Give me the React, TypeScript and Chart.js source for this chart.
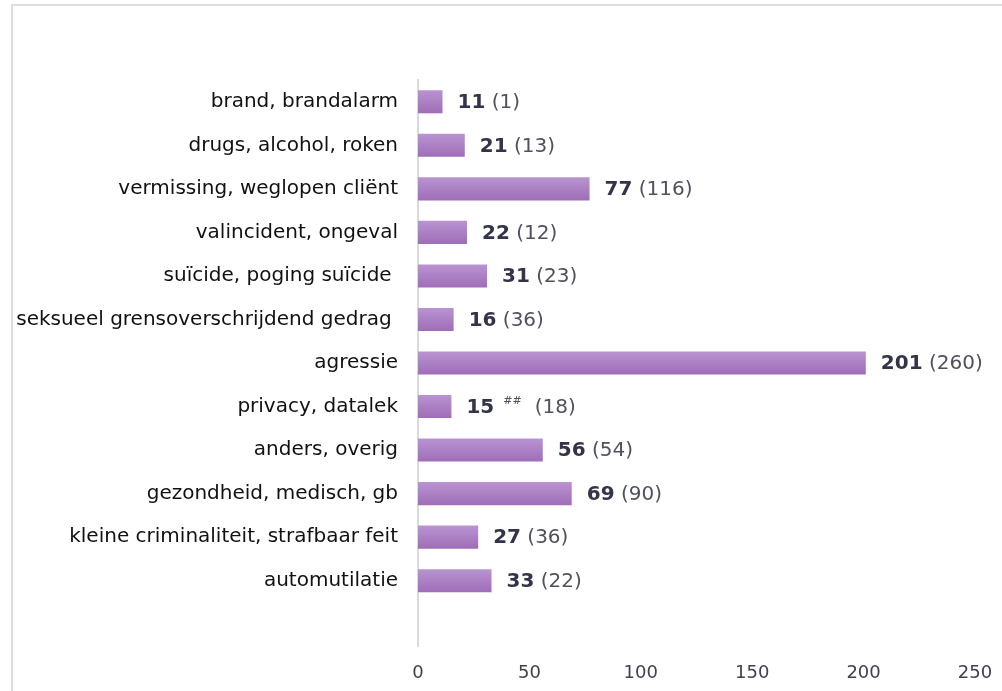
import React, { useEffect, useRef } from "react";
import { Chart, registerables } from "chart.js";

Chart.register(...registerables);

const categories: string[] = [
  "brand, brandalarm",
  "drugs, alcohol, roken",
  "vermissing, weglopen cliënt",
  "valincident, ongeval",
  "suïcide, poging suïcide ",
  "seksueel grensoverschrijdend gedrag ",
  "agressie",
  "privacy, datalek",
  "anders, overig",
  "gezondheid, medisch, gb",
  "kleine criminaliteit, strafbaar feit",
  "automutilatie",
  "",
];
const currentValues: (number | null)[] = [11, 21, 77, 22, 31, 16, 201, 15, 56, 69, 27, 33, null];
const previousValues: (number | null)[] = [1, 13, 116, 12, 23, 36, 260, 18, 54, 90, 36, 22, null];
const footnotes: string[] = ["", "", "", "", "", "", "", "##", "", "", "", "", ""];
const xTicks: number[] = [0, 50, 100, 150, 200, 250];

const FONT = "'DejaVu Sans', Verdana, sans-serif";

const framePlugin = {
  id: "frame",
  beforeDraw(chart: any) {
    const ctx = chart.ctx;
    ctx.save();
    ctx.strokeStyle = "#dcdce5";
    ctx.lineWidth = 2;
    ctx.beginPath();
    ctx.moveTo(12, chart.height + 10);
    ctx.lineTo(12, 5);
    ctx.lineTo(chart.width + 10, 5);
    ctx.stroke();
    ctx.restore();
  },
};

const valueLabelPlugin = {
  id: "valueLabels",
  afterDatasetsDraw(chart: any) {
    const ctx = chart.ctx;
    const meta = chart.getDatasetMeta(0);
    ctx.save();
    ctx.textBaseline = "middle";
    ctx.textAlign = "left";
    meta.data.forEach((bar: any, i: number) => {
      const v = currentValues[i];
      if (v === null || v === undefined) return;
      let x = bar.x + 15;
      const y = bar.y + 1;
      ctx.font = `bold 20px ${FONT}`;
      ctx.fillStyle = "#33334a";
      const bold = String(v);
      ctx.fillText(bold, x, y);
      x += ctx.measureText(bold).width;
      const note = footnotes[i];
      if (note) {
        ctx.font = `11px ${FONT}`;
        ctx.fillStyle = "#50505f";
        x += 9;
        ctx.fillText(note, x, y - 6);
        x += ctx.measureText(note).width + 13;
      } else {
        ctx.font = `20px ${FONT}`;
        x += ctx.measureText(" ").width;
      }
      ctx.font = `20px ${FONT}`;
      ctx.fillStyle = "#50505f";
      ctx.fillText(`(${previousValues[i]})`, x, y);
    });
    ctx.restore();
  },
};

export default function App() {
  const canvasRef = useRef<HTMLCanvasElement | null>(null);

  useEffect(() => {
    document.body.style.margin = "0";
    const canvas = canvasRef.current;
    if (!canvas) return;
    const chart = new Chart(canvas, {
      type: "bar",
      data: {
        labels: categories,
        datasets: [
          {
            data: currentValues as any,
            backgroundColor: (c: any) => {
              const ch = c.chart;
              const ys = ch.scales && ch.scales.y;
              if (!ys || c.dataIndex === undefined) return "#ac80c4";
              const cy = ys.getPixelForValue(c.dataIndex);
              if (!Number.isFinite(cy)) return "#ac80c4";
              const g = ch.ctx.createLinearGradient(0, cy - 11.5, 0, cy + 11.5);
              g.addColorStop(0, "#b994d1");
              g.addColorStop(1, "#9f6db7");
              return g;
            },
            borderWidth: 0,
            categoryPercentage: 1,
            barPercentage: 0.53,
          },
        ],
      },
      options: {
        indexAxis: "y",
        responsive: false,
        animation: false,
        events: [],
        layout: { padding: { top: 80, right: 27, left: 0, bottom: 0 } },
        plugins: {
          legend: { display: false },
          tooltip: { enabled: false },
          title: { display: false },
        },
        scales: {
          x: {
            min: 0,
            max: 250,
            afterBuildTicks: (s: any) => {
              s.ticks = xTicks.map((v) => ({ value: v }));
            },
            afterFit: (s: any) => {
              s.height = 45;
              s.paddingLeft = 0;
              s.paddingRight = 0;
            },
            grid: { display: false, drawTicks: false },
            border: { display: false },
            ticks: {
              padding: 17,
              color: "#404050",
              font: { family: FONT, size: 18 },
            },
          },
          y: {
            afterFit: (s: any) => {
              s.width = 418;
            },
            grid: { display: false, drawTicks: false },
            border: { display: true, color: "#d9d9e2", width: 2 },
            ticks: {
              padding: 20,
              color: "#111111",
              autoSkip: false,
              font: { family: FONT, size: 20 },
            },
          },
        },
      },
      plugins: [framePlugin, valueLabelPlugin],
    } as any);
    return () => chart.destroy();
  }, []);

  return (
    <div style={{ width: 1002, height: 691, position: "relative" }}>
      <canvas ref={canvasRef} width={1002} height={691} style={{ display: "block" }} />
    </div>
  );
}
